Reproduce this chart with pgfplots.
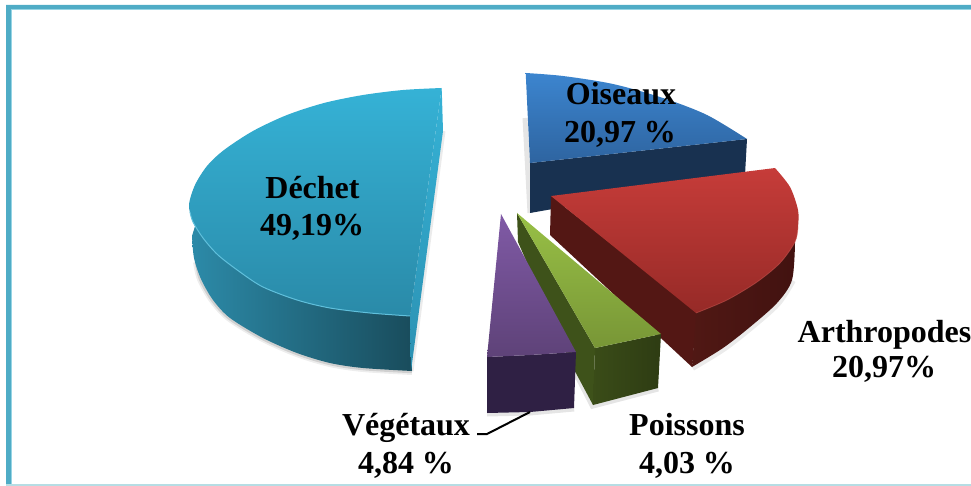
\documentclass[border=0pt]{standalone}
\usepackage{fontspec}
\setmainfont{Liberation Serif}
\usepackage{pgfplots}
\pgfplotsset{compat=1.18}
\newcommand{\lab}[3]{\node[anchor=base,inner sep=0pt,font=\bfseries\fontsize{32}{36}\selectfont] at (axis cs:#1,#2) {#3};}
\begin{document}
\begin{tikzpicture}
\path[use as bounding box] (0,0) rectangle (971pt,486pt);
\begin{axis}[
    scale only axis,
    width=971pt,height=486pt,
    xmin=0,xmax=971,ymin=0,ymax=486,
    y dir=reverse,
    hide axis,
    no markers,
]
% frame
\addplot[draw=none,fill={rgb,255:red,79;green,172;blue,198}] coordinates {(6,5)(971,5)(971,9)(11,9)(11,486)(6,486)};
\addplot[draw={rgb,255:red,150;green,212;blue,228},line width=1pt] coordinates {(11.5,486)(11.5,9.5)(971,9.5)};
\addplot[draw={rgb,255:red,182;green,221;blue,228},line width=2pt] coordinates {(6,485)(971,485)};

% soft shadows under the slices
\addplot[black,opacity=.07,line width=8pt,smooth,tension=.5] coordinates {(197,262)(201,279)(213,300)(230,318)(263,338)(297,353)(330,363)(363,368)(412,371)};
\addplot[black,opacity=.12,line width=4.5pt,smooth,tension=.5] coordinates {(197,262)(201,279)(213,300)(230,318)(263,338)(297,353)(330,363)(363,368)(412,371)};
\addplot[black,opacity=.08,line width=5pt] coordinates {(443,131)(411,371)};
\addplot[black,opacity=.08,line width=8pt,smooth] coordinates {(692,367)(723,348)(750,327)(777,303)(792,280)};
\addplot[black,opacity=.10,line width=7pt] coordinates {(574,408)(530,412)(487,413)};
\addplot[black,opacity=.10,line width=7pt] coordinates {(658,388)(593,405)(575,370)};
\addplot[black,opacity=.10,line width=5pt] coordinates {(525,118)(530,213)};

% Dechet: side, then cut face, then top
\addplot[draw=none,left color={rgb,255:red,44;green,138;blue,168},middle color={rgb,255:red,34;green,106;blue,130},right color={rgb,255:red,25;green,76;blue,92},smooth,tension=.5] coordinates {
 (192,236)(194,258)(201,279)(213,300)(230,318)(263,338)(297,353)(330,363)(363,368)(412,371)} -- (axis cs:410,300) -- (axis cs:200,210) -- cycle;
\addplot[draw=none,top color={rgb,255:red,53;green,178;blue,214},bottom color={rgb,255:red,44;green,145;blue,178}] coordinates {(441.7,88)(443,131)(411,371)(410,316)};
\addplot[draw=none,top color={rgb,255:red,53;green,178;blue,214},bottom color={rgb,255:red,42;green,138;blue,168},smooth,tension=.5] coordinates {
 (441.7,88)(403,90)(363,95)(324,103)(287,115)(253,131)(224,150)(207,166)(195,185)(189,205)(193,222)(203,238)(218,255)(240,272)(263,287)(297,300)(330,308)(370,313)(410,316)} -- cycle;
\addplot[draw={rgb,255:red,96;green,192;blue,220},line width=1pt,smooth,tension=.5] coordinates {(190,212)(193,222)(203,238)(218,255)(240,272)(263,287)(297,300)(330,308)(370,313)(410,316)};

% Oiseaux
\addplot[draw=none,fill={rgb,255:red,24;green,49;blue,80}] coordinates {(530,163)(747,139)(745,175)(530,213)};
\addplot[draw=none,top color={rgb,255:red,60;green,133;blue,207},bottom color={rgb,255:red,46;green,100;blue,160},smooth,tension=.5] coordinates {
 (525.7,73)(563,76)(613,84)(663,98)(707,115)(747,139)} -- (axis cs:530,163) -- cycle;

% Arthropodes
\addplot[draw=none,fill={rgb,255:red,83;green,23;blue,20}] coordinates {(551,196)(697,312)(692,367)(550,235)};
\addplot[draw=none,left color={rgb,255:red,80;green,24;blue,20},right color={rgb,255:red,66;green,18;blue,16},smooth,tension=.5] coordinates {
 (692,367)(723,348)(750,327)(777,303)(792,280)(795,243)} -- (axis cs:785,225) -- (axis cs:697,300) -- cycle;
\addplot[draw=none,top color={rgb,255:red,198;green,60;blue,57},bottom color={rgb,255:red,150;green,42;blue,39},smooth,tension=.5] coordinates {
 (775,168)(790,187)(798,210)(798,227)(795,242)(780,263)(757,282)(727,300)(696,313)} -- (axis cs:551,196) -- cycle;
\addplot[draw={rgb,255:red,205;green,90;blue,85},opacity=.5,line width=.8pt,smooth,tension=.5] coordinates {(798,227)(795,242)(780,263)(757,282)(727,300)(696,313)};

% Poissons
\addplot[draw=none,fill={rgb,255:red,62;green,82;blue,26}] coordinates {(517,213)(595,348)(593,405)(570,362)(518,242)};
\addplot[draw=none,left color={rgb,255:red,58;green,76;blue,24},right color={rgb,255:red,46;green,60;blue,19}] coordinates {(595,348)(661,334)(658,388)(593,405)};
\addplot[draw=none,top color={rgb,255:red,152;green,192;blue,70},bottom color={rgb,255:red,120;green,150;blue,54}] coordinates {(517,213)(661,334)(595,348)};

% Vegetaux
\addplot[draw=none,fill={rgb,255:red,47;green,32;blue,68}] coordinates {(487,357)(530,355)(576,352)(574,408)(530,412)(487,413)};
\addplot[draw=none,top color={rgb,255:red,128;green,90;blue,166},bottom color={rgb,255:red,94;green,66;blue,120}] coordinates {(501,214)(576,352)(530,355)(487,357)};

% leader line
\addplot[black,line width=2pt] coordinates {(477,434)(487,434)(530,412)};

\lab{621}{105}{Oiseaux}
\lab{620}{143}{20,97 \%}
\lab{312.5}{199}{Déchet}
\lab{312}{236}{49,19\%}
\lab{884.5}{342}{Arthropodes}
\lab{884}{377}{20,97\%}
\lab{406}{435}{Végétaux}
\lab{406}{473}{4,84 \%}
\lab{687}{435}{Poissons}
\lab{687}{473}{4,03 \%}
\end{axis}
\end{tikzpicture}
\end{document}
